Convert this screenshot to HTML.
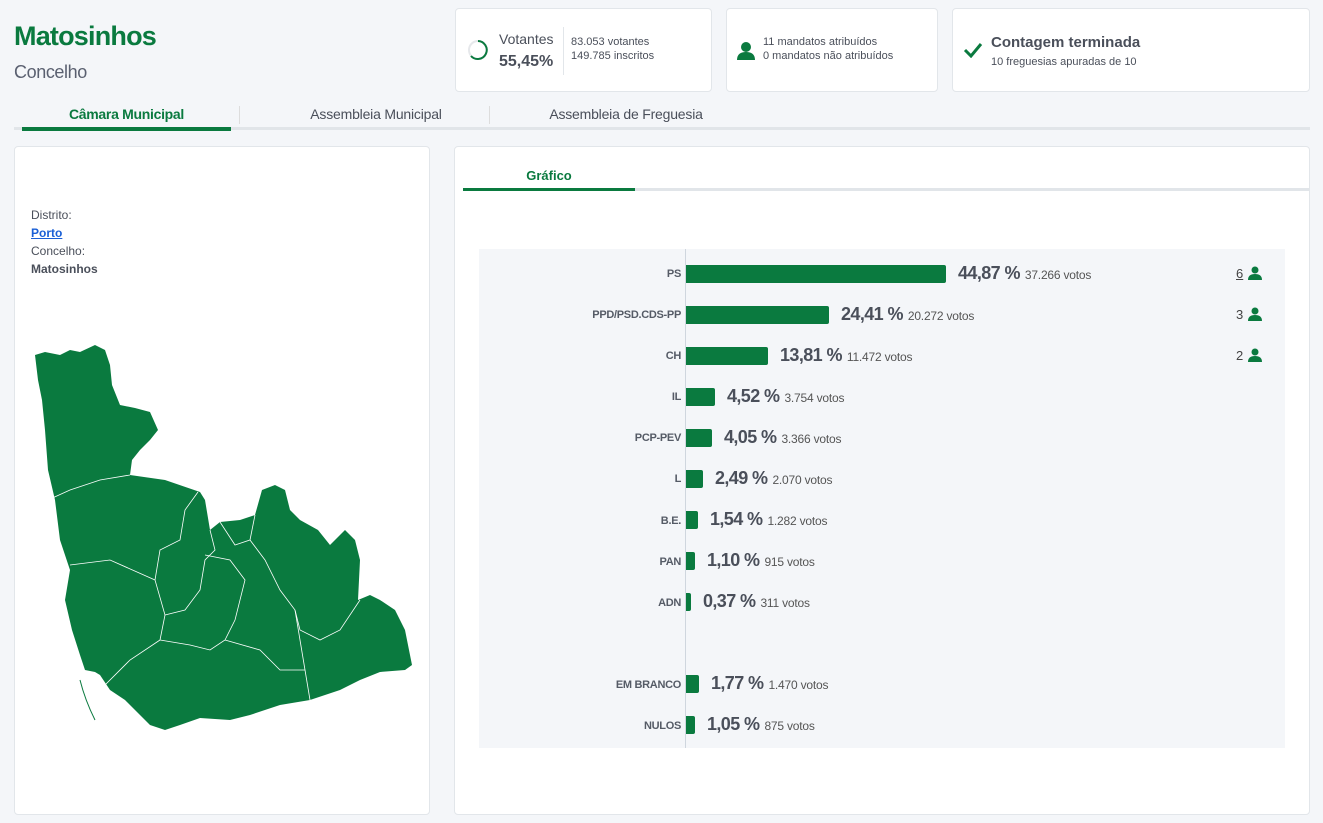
<!DOCTYPE html>
<html><head><meta charset="utf-8"><style>
*{box-sizing:border-box;margin:0;padding:0}
body{width:1323px;height:823px;background:#f4f6f9;font-family:"Liberation Sans",sans-serif;position:relative;overflow:hidden;color:#4a4f5a}
.abs{position:absolute}
.card{position:absolute;background:#fff;border:1px solid #e2e6ea;border-radius:4px}
.g{color:#0a7a3f}
.lbl{position:absolute;right:642px;font-size:11px;font-weight:bold;color:#555b66;text-align:right;letter-spacing:-0.3px}
.bar{position:absolute;left:686px;height:18px;background:#0a7a3f;border-radius:0 2px 2px 0}
.pct{position:absolute;font-size:18px;font-weight:bold;color:#4a4f5a;white-space:nowrap;letter-spacing:-0.6px}
.pct span{font-size:12px;font-weight:normal;color:#555;margin-left:5px;letter-spacing:-0.2px}
.man{position:absolute;left:1236px;font-size:13px;color:#444}
</style></head><body>
<div class="abs g" style="left:14px;top:21px;font-size:27px;font-weight:bold;letter-spacing:-0.8px">Matosinhos</div>
<div class="abs" style="left:14px;top:62px;font-size:18px;color:#5a6070;letter-spacing:-0.4px">Concelho</div>

<div class="card" style="left:455px;top:8px;width:257px;height:84px">
<svg class="abs" style="left:11px;top:30px" width="22" height="22"><circle cx="11" cy="11" r="9" fill="none" stroke="#e6e8eb" stroke-width="2"/><path d="M11 2 A9 9 0 1 1 4 17" fill="none" stroke="#0a7a3f" stroke-width="2"/></svg>
<div class="abs" style="left:43px;top:22px;font-size:14px">Votantes</div>
<div class="abs" style="left:43px;top:44px;font-size:16px;font-weight:bold">55,45%</div>
<div class="abs" style="left:107px;top:18px;width:1px;height:48px;background:#e2e6ea"></div>
<div class="abs" style="left:115px;top:26px;font-size:11px;line-height:14px">83.053 votantes<br>149.785 inscritos</div>
</div>
<div class="card" style="left:726px;top:8px;width:212px;height:84px">
<svg class="abs" style="left:10px;top:32px" width="18" height="20"><circle cx="9" cy="6" r="5" fill="#0a7a3f"/><path d="M0 19 Q0 11 9 11 Q18 11 18 19Z" fill="#0a7a3f"/></svg>
<div class="abs" style="left:36px;top:26px;font-size:11px;line-height:14px">11 mandatos atribuídos<br>0 mandatos não atribuídos</div>
</div>
<div class="card" style="left:952px;top:8px;width:358px;height:84px">
<svg class="abs" style="left:10px;top:33px" width="20" height="16"><path d="M2 8 L8 14 L18 2" fill="none" stroke="#0a7a3f" stroke-width="3"/></svg>
<div class="abs" style="left:38px;top:25px;font-size:15px;font-weight:bold">Contagem terminada</div>
<div class="abs" style="left:38px;top:47px;font-size:11px">10 freguesias apuradas de 10</div>
</div>

<div class="abs" style="left:14px;top:127px;width:1296px;height:3px;background:#e1e5e9"></div>
<div class="abs" style="left:22px;top:127px;width:209px;height:4px;background:#0a7a3f"></div>
<div class="abs g" style="left:22px;top:106px;width:209px;text-align:center;font-size:14px;font-weight:bold;letter-spacing:-0.3px">Câmara Municipal</div>
<div class="abs" style="left:239px;top:106px;width:1px;height:18px;background:#ddd"></div>
<div class="abs" style="left:276px;top:106px;width:200px;text-align:center;font-size:14px;letter-spacing:-0.2px">Assembleia Municipal</div>
<div class="abs" style="left:489px;top:106px;width:1px;height:18px;background:#ddd"></div>
<div class="abs" style="left:526px;top:106px;width:200px;text-align:center;font-size:14px;letter-spacing:-0.2px">Assembleia de Freguesia</div>

<div class="card" style="left:14px;top:146px;width:416px;height:669px"></div>
<div class="abs" style="left:31px;top:206px;font-size:12px;line-height:18px">Distrito:<br><u style="color:#1a5fd6;font-weight:bold">Porto</u><br>Concelho:<br><b>Matosinhos</b></div>
<svg class="abs" style="left:0;top:0" width="430" height="740">
<polygon fill="#0a7a3f" points="35,355 45,352 60,355 70,350 80,352 95,345 105,350 110,365 112,385 120,405 135,408 150,412 158,430 150,440 140,450 132,460 130,475 165,480 200,492 205,500 210,530 220,522 240,520 255,515 262,490 275,485 285,490 290,510 300,520 318,530 330,545 345,530 355,540 360,560 358,600 370,595 380,600 395,610 405,630 412,665 405,670 380,672 360,680 340,690 310,700 280,705 250,715 230,720 200,718 180,725 165,730 150,725 140,715 125,700 110,690 100,675 95,672 85,670 80,655 72,630 65,600 70,570 60,540 55,500 48,470 45,430 42,400 38,380"/>
<g fill="none" stroke="#fff" stroke-width="0.8">
<path d="M48,500 L70,490 L100,480 L130,475"/>
<path d="M198,492 L185,510 L180,540 L160,550 L155,580 L165,615 L160,640"/>
<path d="M70,565 L110,560 L155,580"/>
<path d="M160,640 L130,660 L100,690"/>
<path d="M210,530 L215,550 L205,560 L200,590 L185,610 L165,615"/>
<path d="M205,555 L230,560 L245,580 L235,620 L225,640 L210,650 L190,645 L160,640"/>
<path d="M220,522 L235,545 L250,540 L265,560 L280,590 L295,610 L300,640 L305,670 L310,700"/>
<path d="M255,515 L250,540"/>
<path d="M295,610 L300,630 L320,640 L340,630 L360,600"/>
<path d="M225,640 L260,650 L280,670 L305,670"/>
</g>
<path d="M80,680 Q85,700 95,720" fill="none" stroke="#0a7a3f" stroke-width="1"/>
</svg>

<div class="card" style="left:454px;top:146px;width:856px;height:669px"></div>
<div class="abs" style="left:463px;top:188px;width:846px;height:3px;background:#e1e5e9"></div>
<div class="abs" style="left:463px;top:188px;width:172px;height:3px;background:#0a7a3f"></div>
<div class="abs g" style="left:463px;top:168px;width:172px;text-align:center;font-size:13px;font-weight:bold">Gráfico</div>
<div class="abs" style="left:479px;top:249px;width:806px;height:499px;background:#f4f6f9"></div>
<div class="abs" style="left:685px;top:249px;width:1px;height:499px;background:#cfd6de"></div>

<div class="lbl" style="top:268px">PS</div><div class="bar" style="top:265px;width:260px"></div><div class="pct" style="left:958px;top:263px">44,87 %<span>37.266 votos</span></div>
<div class="lbl" style="top:309px">PPD/PSD.CDS-PP</div><div class="bar" style="top:306px;width:143px"></div><div class="pct" style="left:841px;top:304px">24,41 %<span>20.272 votos</span></div>
<div class="lbl" style="top:350px">CH</div><div class="bar" style="top:347px;width:82px"></div><div class="pct" style="left:780px;top:345px">13,81 %<span>11.472 votos</span></div>
<div class="lbl" style="top:391px">IL</div><div class="bar" style="top:388px;width:29px"></div><div class="pct" style="left:727px;top:386px">4,52 %<span>3.754 votos</span></div>
<div class="lbl" style="top:432px">PCP-PEV</div><div class="bar" style="top:429px;width:26px"></div><div class="pct" style="left:724px;top:427px">4,05 %<span>3.366 votos</span></div>
<div class="lbl" style="top:473px">L</div><div class="bar" style="top:470px;width:17px"></div><div class="pct" style="left:715px;top:468px">2,49 %<span>2.070 votos</span></div>
<div class="lbl" style="top:515px">B.E.</div><div class="bar" style="top:511px;width:12px"></div><div class="pct" style="left:710px;top:509px">1,54 %<span>1.282 votos</span></div>
<div class="lbl" style="top:556px">PAN</div><div class="bar" style="top:552px;width:9px"></div><div class="pct" style="left:707px;top:550px">1,10 %<span>915 votos</span></div>
<div class="lbl" style="top:597px">ADN</div><div class="bar" style="top:593px;width:5px"></div><div class="pct" style="left:703px;top:591px">0,37 %<span>311 votos</span></div>
<div class="lbl" style="top:679px">EM BRANCO</div><div class="bar" style="top:675px;width:13px"></div><div class="pct" style="left:711px;top:673px">1,77 %<span>1.470 votos</span></div>
<div class="lbl" style="top:720px">NULOS</div><div class="bar" style="top:716px;width:9px"></div><div class="pct" style="left:707px;top:714px">1,05 %<span>875 votos</span></div>

<div class="man" style="top:266px"><u>6</u></div>
<div class="man" style="top:307px">3</div>
<div class="man" style="top:348px">2</div>
<svg class="abs" style="left:1248px;top:266px" width="14" height="100"><g fill="#0a7a3f"><circle cx="7" cy="4" r="3.5"/><path d="M0 14 Q0 8 7 8 Q14 8 14 14Z"/><g transform="translate(0,41)"><circle cx="7" cy="4" r="3.5"/><path d="M0 14 Q0 8 7 8 Q14 8 14 14Z"/></g><g transform="translate(0,82)"><circle cx="7" cy="4" r="3.5"/><path d="M0 14 Q0 8 7 8 Q14 8 14 14Z"/></g></g></svg>
</body></html>
